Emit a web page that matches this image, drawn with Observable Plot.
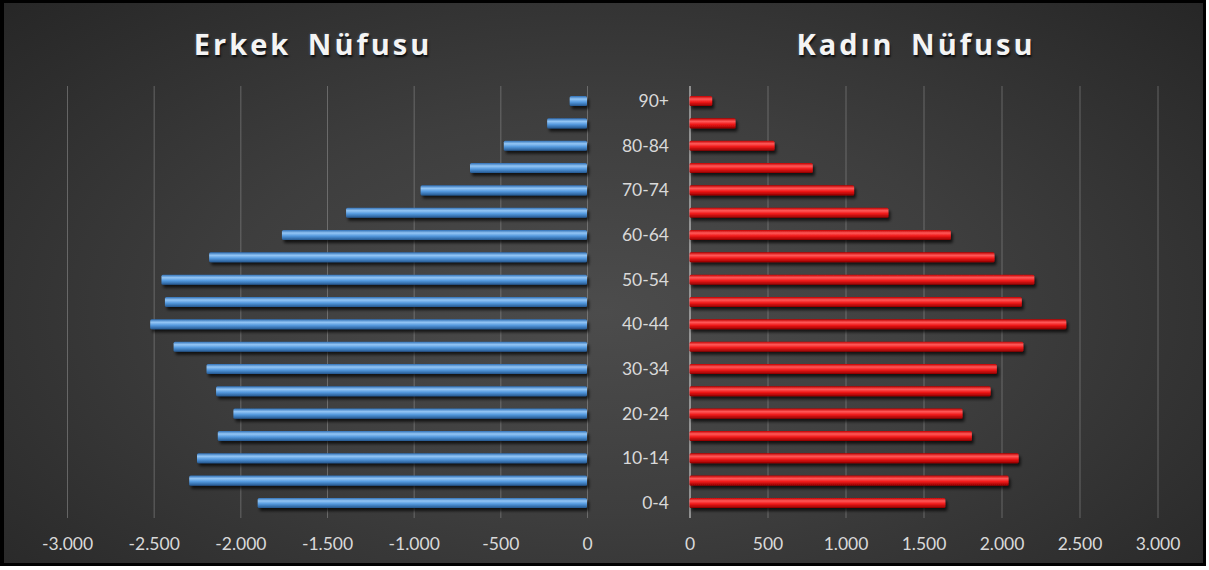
<!DOCTYPE html>
<html>
<head>
<meta charset="utf-8">
<script src="https://cdn.jsdelivr.net/npm/d3@7"></script>
<script src="https://cdn.jsdelivr.net/npm/@observablehq/plot@0.6"></script>
<style>
  html, body { margin: 0; padding: 0; background: #ffffff; }
  #wrap { position: relative; width: 1209px; height: 570px; background: #ffffff; overflow: hidden; }
  #frame {
    position: absolute; left: 0; top: 0; width: 1199px; height: 560px;
    border: 3px solid #000; border-left-width: 4px;
    background: radial-gradient(ellipse 70% 80% at 50% 55%, #4c4c4c 0%, #3e3e3e 45%, #262626 100%);
  }
  .title {
    position: absolute; top: 27px; font-family: "Open Sans", sans-serif; font-weight: 700;
    font-size: 29px; letter-spacing: 3px; word-spacing: 6px; color: #f4f4f4;
    text-shadow: 1px 2px 2px rgba(0,0,0,0.85), 0 0 3px rgba(160,190,230,0.35);
    transform: translateX(-50%); white-space: nowrap; line-height: 1.2;
  }
  .plot { position: absolute; top: 0; }
  .plot svg { overflow: visible; }
</style>
</head>
<body>
<div id="wrap">
  <div id="frame"></div>
  <div class="title" id="t1" style="left:313px"></div>
  <div class="title" id="t2" style="left:916px"></div>
  <div class="plot" id="left" style="left:0px"></div>
  <div class="plot" id="right" style="left:600px"></div>
</div>
<script>
// ---- data ----
const ageGroups = ["0-4","5-9","10-14","15-19","20-24","25-29","30-34","35-39","40-44","45-49",
                   "50-54","55-59","60-64","65-69","70-74","75-79","80-84","85-89","90+"];
const maleValues = [1900, 2295, 2250, 2130, 2040, 2140, 2195, 2385, 2520, 2435,
                    2455, 2180, 1760, 1390, 960, 675, 480, 230, 100];
const femaleValues = [1640, 2045, 2110, 1810, 1750, 1930, 1970, 2140, 2415, 2130,
                      2210, 1955, 1675, 1275, 1055, 790, 545, 295, 145];
const maleTicks = [-3000, -2500, -2000, -1500, -1000, -500, 0];
const femaleTicks = [0, 500, 1000, 1500, 2000, 2500, 3000];
const leftTitle = "Erkek Nüfusu";
const rightTitle = "Kadın Nüfusu";

const male = ageGroups.map((a, i) => ({age: a, value: -maleValues[i]}));
const female = ageGroups.map((a, i) => ({age: a, value: femaleValues[i]}));

const trLocale = d3.formatLocale({decimal: ",", thousands: ".", grouping: [3], currency: ["₺", ""], minus: "-"});
const fmt = trLocale.format(",d");
const yDomain = ageGroups.slice().reverse();

const H = 570;
const common = {
  height: H,
  marginTop: 86,
  marginBottom: H - 518,
  style: {background: "transparent", color: "#d9d9d9", fontFamily: "Lato, 'Open Sans', sans-serif", fontSize: "17.5px", overflow: "visible"}
};

function decorate(svg, suffix) {
  const defs = d3.select(svg).insert("defs", ":first-child");
  const b = defs.append("linearGradient").attr("id", "gBlue" + suffix).attr("x1", 0).attr("y1", 0).attr("x2", 0).attr("y2", 1);
  b.append("stop").attr("offset", "0%").attr("stop-color", "#2f6fb5");
  b.append("stop").attr("offset", "30%").attr("stop-color", "#94c6f5");
  b.append("stop").attr("offset", "60%").attr("stop-color", "#5499de");
  b.append("stop").attr("offset", "100%").attr("stop-color", "#24578f");
  const r = defs.append("linearGradient").attr("id", "gRed" + suffix).attr("x1", 0).attr("y1", 0).attr("x2", 0).attr("y2", 1);
  r.append("stop").attr("offset", "0%").attr("stop-color", "#c00000");
  r.append("stop").attr("offset", "30%").attr("stop-color", "#ff5a5a");
  r.append("stop").attr("offset", "60%").attr("stop-color", "#f01818");
  r.append("stop").attr("offset", "100%").attr("stop-color", "#8e0000");
  const f = defs.append("filter").attr("id", "shadow" + suffix).attr("x", "-10%").attr("y", "-60%").attr("width", "130%").attr("height", "260%");
  f.append("feDropShadow").attr("dx", 2).attr("dy", 3).attr("stdDeviation", 1.6).attr("flood-color", "#000").attr("flood-opacity", 0.7);
  d3.select(svg).selectAll("g[aria-label='bar']").attr("filter", "url(#shadow" + suffix + ")");
}

const yOpts = {domain: yDomain, paddingInner: 0.55, paddingOuter: 0.45, round: false};

const leftPlot = Plot.plot({
  ...common,
  width: 600,
  marginLeft: 67,
  marginRight: 13,
  x: {domain: [-3000, 0], ticks: maleTicks, tickFormat: fmt, label: null, tickSize: 0, tickPadding: 19},
  y: {...yOpts, axis: null},
  marks: [
    Plot.gridX(maleTicks, {stroke: "#9a9a9a", strokeOpacity: 0.5, strokeWidth: 1}),
    Plot.barX(male, {x1: 0, x2: "value", y: "age", fill: "url(#gBlueL)", rx: 1.5})
  ]
});
decorate(leftPlot, "L");
document.getElementById("left").appendChild(leftPlot);

const rightPlot = Plot.plot({
  ...common,
  width: 609,
  marginLeft: 89.5,
  marginRight: 51.5,
  x: {domain: [0, 3000], ticks: femaleTicks, tickFormat: fmt, label: null, tickSize: 0, tickPadding: 19},
  y: {...yOpts, tickSize: 0, tickPadding: 21, label: null,
      tickFormat: (d) => (ageGroups.indexOf(d) % 2 === 0 ? d : "")},
  marks: [
    Plot.gridX(femaleTicks.filter(t => t > 0), {stroke: "#9a9a9a", strokeOpacity: 0.5, strokeWidth: 1}),
    Plot.ruleX([0], {stroke: "#c8c8c8", strokeWidth: 1.2}),
    Plot.barX(female, {x1: 0, x2: "value", y: "age", fill: "url(#gRedR)", rx: 1.5})
  ]
});
decorate(rightPlot, "R");
document.getElementById("right").appendChild(rightPlot);
document.getElementById("t1").textContent = leftTitle;
document.getElementById("t2").textContent = rightTitle;
</script>
</body>
</html>
